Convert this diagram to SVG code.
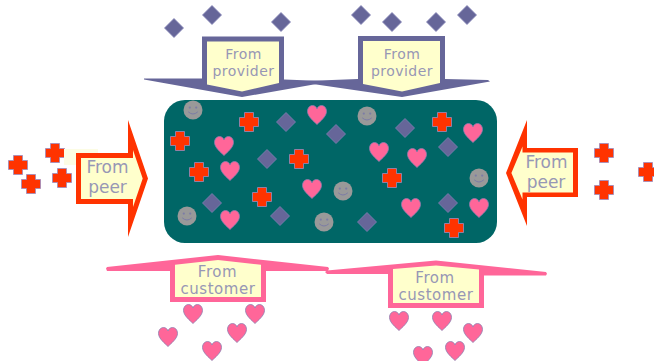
<svg xmlns="http://www.w3.org/2000/svg" xmlns:xlink="http://www.w3.org/1999/xlink" width="654" height="361" viewBox="0 0 654 361">
  <style>
    .lbl { font-family: "DejaVu Sans", Verdana, sans-serif; fill: #9797b5; text-anchor: middle; }
    .prov { font-size: 14px; letter-spacing: 0.45px; }
    .peer { font-size: 17px; }
    .cust { font-size: 15px; letter-spacing: 0.55px; }
    .inner { fill: #ffffcc; }
    .edge-prov { fill: #666699; }
    .edge-peer { fill: #ff3300; }
    .edge-cust { fill: #ff6699; }
    .heart { fill: #ff6699; stroke: #8c7fb0; stroke-width: 0.8; }
    .cross { fill: #ff3300; stroke: #9a8cc0; stroke-width: 0.8; stroke-linejoin: round; }
    .diamond { fill: #666699; stroke: #8282b4; stroke-width: 0.8; }
  </style>
  <defs>
    <path id="heart" d="M0,9.5 C-3,6.5 -9.5,1.5 -9.5,-3.5 C-9.5,-7.5 -6.8,-9.5 -4.6,-9.5 C-2.2,-9.5 -0.6,-8 0,-6 C0.6,-8 2.2,-9.5 4.6,-9.5 C6.8,-9.5 9.5,-7.5 9.5,-3.5 C9.5,1.5 3,6.5 0,9.5 Z"/>
    <path id="cross" d="M-4.5,-9.5 H4.5 V-4.5 H9.5 V4.5 H4.5 V9.5 H-4.5 V4.5 H-9.5 V-4.5 H-4.5 Z"/>
    <path id="diamond" d="M0,-9.5 L9.5,0 L0,9.5 L-9.5,0 Z"/>
    <g id="smiley">
      <circle r="9.5" fill="#999999"/>
      <circle cx="-3.2" cy="-2.4" r="1.1" fill="#7c7ca6"/>
      <circle cx="3.2" cy="-2.4" r="1.1" fill="#7c7ca6"/>
      <path d="M-4.8,1.8 Q0,6.2 4.8,1.8" fill="none" stroke="#7c7ca6" stroke-width="1"/>
    </g>
  </defs>

  <rect width="654" height="361" fill="#ffffff"/>

  <!-- central pool of routes -->
  <g id="pool">
    <rect x="164" y="100" width="333" height="143" rx="21" fill="#006666"/>
    <g class="smileys">
      <use href="#smiley" x="193" y="110"/>
      <use href="#smiley" x="343" y="191"/>
      <use href="#smiley" x="187" y="216"/>
      <use href="#smiley" x="324" y="222"/>
      <use href="#smiley" x="367" y="116"/>
      <use href="#smiley" x="479" y="178"/>
    </g>
    <g class="cross">
      <use href="#cross" x="249" y="122"/>
      <use href="#cross" x="180" y="141"/>
      <use href="#cross" x="299" y="159"/>
      <use href="#cross" x="199" y="172"/>
      <use href="#cross" x="262" y="197"/>
      <use href="#cross" x="442" y="122"/>
      <use href="#cross" x="392" y="178"/>
      <use href="#cross" x="454" y="228"/>
    </g>
    <g class="diamond">
      <use href="#diamond" x="286" y="122"/>
      <use href="#diamond" x="336" y="134"/>
      <use href="#diamond" x="267" y="159"/>
      <use href="#diamond" x="212" y="203"/>
      <use href="#diamond" x="280" y="216"/>
      <use href="#diamond" x="405" y="128"/>
      <use href="#diamond" x="448" y="147"/>
      <use href="#diamond" x="448" y="203"/>
      <use href="#diamond" x="367" y="222"/>
    </g>
    <g class="heart">
      <use href="#heart" x="317" y="115"/>
      <use href="#heart" x="224" y="146"/>
      <use href="#heart" x="230" y="171"/>
      <use href="#heart" x="312" y="189"/>
      <use href="#heart" x="230" y="220"/>
      <use href="#heart" x="473" y="133"/>
      <use href="#heart" x="379" y="152"/>
      <use href="#heart" x="417" y="158"/>
      <use href="#heart" x="411" y="208"/>
      <use href="#heart" x="479" y="208"/>
    </g>
  </g>

  <!-- incoming routes: diamonds above the provider arrows -->
  <g id="provider-routes" class="diamond">
    <use href="#diamond" x="174" y="28"/>
    <use href="#diamond" x="212" y="15"/>
    <use href="#diamond" x="281" y="22"/>
    <use href="#diamond" x="361" y="15"/>
    <use href="#diamond" x="392" y="22"/>
    <use href="#diamond" x="436" y="22"/>
    <use href="#diamond" x="467" y="15"/>
  </g>

  <!-- incoming routes: crosses beside the peer arrows -->
  <g id="peer-routes" class="cross">
    <use href="#cross" x="18" y="165"/>
    <use href="#cross" x="55" y="153"/>
    <use href="#cross" x="31" y="184"/>
    <use href="#cross" x="62" y="178"/>
    <use href="#cross" x="604" y="153"/>
    <use href="#cross" x="604" y="190"/>
    <use href="#cross" x="648" y="172"/>
  </g>

  <!-- incoming routes: hearts below the customer arrows -->
  <g id="customer-routes" class="heart">
    <use href="#heart" x="193" y="314"/>
    <use href="#heart" x="255" y="314"/>
    <use href="#heart" x="168" y="337"/>
    <use href="#heart" x="237" y="333"/>
    <use href="#heart" x="212" y="351"/>
    <use href="#heart" x="399" y="321"/>
    <use href="#heart" x="442" y="321"/>
    <use href="#heart" x="473" y="333"/>
    <use href="#heart" x="455" y="351"/>
    <use href="#heart" x="423" y="356"/>
  </g>

  <!-- arrows into the pool -->
  <g id="arrows">
    <g id="provider-left">
      <polygon class="edge-prov" points="144,78.5 202,78.5 202,36.5 284,36.5 284,79.5 323,81 325,82.5 242,97 144,79.5"/>
      <polygon class="inner" points="207,41.5 279,41.5 279,83 242,91.5 207,84.5"/>
      <text class="lbl prov" x="243.5" y="58.5">From</text>
      <text class="lbl prov" x="243.5" y="75.5">provider</text>
    </g>
    <g id="provider-right">
      <polygon class="edge-prov" points="306,81 358,79 358,36 445,36 445,79 488,80 490,81.5 402,97 306,83"/>
      <polygon class="inner" points="363,41 440,41 440,83 402,91.5 363,84"/>
      <text class="lbl prov" x="402" y="58.5">From</text>
      <text class="lbl prov" x="402" y="75.5">provider</text>
    </g>

    <g id="peer-left">
      <rect x="64" y="149" width="34" height="16" fill="#fcfce4"/>
      <polygon class="edge-peer" points="76,153 128,153 128,120 148,178.5 128,237 128,204 76,204"/>
      <polygon class="inner" points="81,158 133,158 133,150 142.7,178.5 133,207 133,199 81,199"/>
      <text class="lbl peer" x="107.5" y="173">From</text>
      <text class="lbl peer" x="107.5" y="193">peer</text>
    </g>
    <g id="peer-right">
      <polygon class="edge-peer" points="578,148 527,148 527,120 506,173 527,226 527,197 578,197"/>
      <polygon class="inner" points="573,152.5 522.5,152.5 522.5,146.5 511.4,173 522.5,199.5 522.5,192.5 573,192.5"/>
      <text class="lbl peer" x="546.5" y="168">From</text>
      <text class="lbl peer" x="546" y="188">peer</text>
    </g>

    <g id="customer-left">
      <polygon class="edge-cust" points="106,268.5 107,267 218,255 328,267 329,268.5 328,271 266,271 266,302 170,302 170,271 107,271"/>
      <polygon class="inner" points="175,297 175,264.8 218,260 261,264.8 261,297"/>
      <text class="lbl cust" x="217.5" y="276.5">From</text>
      <text class="lbl cust" x="218" y="294">customer</text>
    </g>
    <g id="customer-right">
      <polygon class="edge-cust" points="325,272 327,270.5 436,260.5 546,272 547,273.8 546,275.5 484,275.5 484,308 388,308 388,274 327,274"/>
      <polygon class="inner" points="393,303 393,269 436,265.5 479,269.5 479,303"/>
      <text class="lbl cust" x="435" y="282.5">From</text>
      <text class="lbl cust" x="436" y="300">customer</text>
    </g>
  </g>
</svg>
